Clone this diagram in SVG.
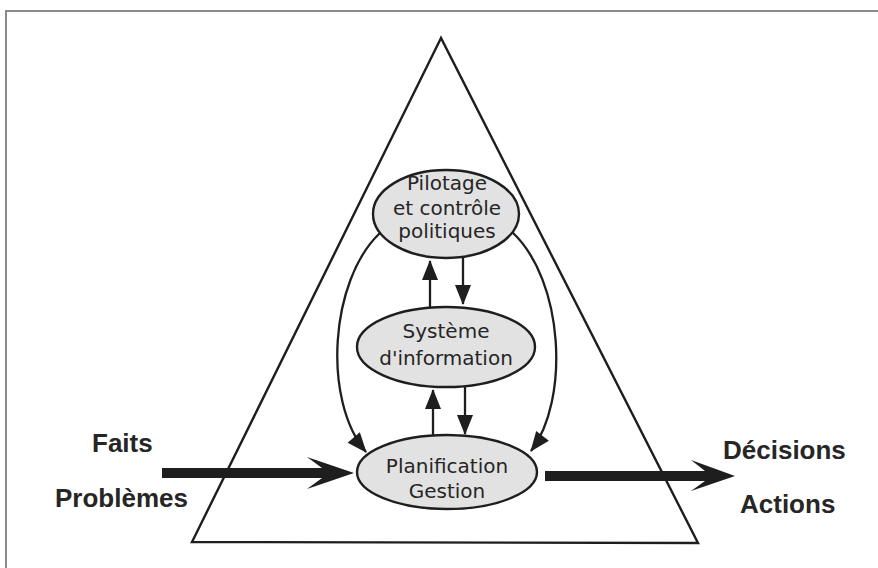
<svg xmlns="http://www.w3.org/2000/svg" width="878" height="568" viewBox="0 0 878 568">
<defs>
<style>
.frame{fill:none;stroke:#8a8a8a;stroke-width:2}
.tri{fill:none;stroke:#1e1e1e;stroke-width:2.4;stroke-linejoin:miter}
.node ellipse{fill:#e2e2e2;stroke:#1e1e1e;stroke-width:2.4}
.node text{font-family:"DejaVu Sans",sans-serif;font-size:20px;fill:#262626;text-anchor:middle}
.lbl{font-family:"Liberation Sans",Arial,sans-serif;font-weight:bold;font-size:26px;fill:#262626}
.con{fill:none;stroke:#1e1e1e;stroke-width:2.3}
.big{fill:#1e1e1e;stroke:none}
</style>
<marker id="ah" viewBox="0 0 20 16" refX="19" refY="8" markerWidth="21" markerHeight="16" markerUnits="userSpaceOnUse" orient="auto">
<path d="M0,0 L20,8 L0,16 Z" fill="#1e1e1e"/>
</marker>
</defs>
<rect width="878" height="568" fill="#ffffff"/>
<path class="frame" d="M6,568 L6,11 L878,11"/>
<polygon class="tri" points="441,38 192,542 698,543"/>

<g id="connectors">
<line class="con" x1="430" y1="308" x2="430" y2="261" marker-end="url(#ah)"/>
<line class="con" x1="463" y1="258" x2="463" y2="304" marker-end="url(#ah)"/>
<line class="con" x1="433" y1="435" x2="433" y2="390" marker-end="url(#ah)"/>
<line class="con" x1="465" y1="387" x2="465" y2="434" marker-end="url(#ah)"/>
<path class="con" d="M380,233 C330,280 322,400 366,452" marker-end="url(#ah)"/>
<path class="con" d="M512,232 C564,280 570,400 531,451" marker-end="url(#ah)"/>
<path class="big" d="M162,468 L322,468 L307,457 L354,473 L307,489 L322,478 L162,478 Z"/>
<path class="big" d="M545,471 L705,471 L691,460 L735,476 L691,491 L705,481 L545,481 Z"/>
</g>

<g id="pilotage" class="node">
<ellipse cx="446" cy="214" rx="73" ry="44"/>
<text x="447" y="190">Pilotage</text>
<text x="447" y="215">et contrôle</text>
<text x="447" y="238">politiques</text>
</g>
<g id="systeme" class="node">
<ellipse cx="446" cy="347" rx="89" ry="40"/>
<text x="446" y="338">Système</text>
<text x="446" y="365">d'information</text>
</g>
<g id="planification" class="node">
<ellipse cx="447" cy="472" rx="90" ry="37"/>
<text x="447" y="473">Planification</text>
<text x="447" y="498">Gestion</text>
</g>

<g id="inputs">
<text class="lbl" x="92" y="452">Faits</text>
<text class="lbl" x="55" y="507">Problèmes</text>
</g>
<g id="outputs">
<text class="lbl" x="723" y="459">Décisions</text>
<text class="lbl" x="740" y="513">Actions</text>
</g>
</svg>
